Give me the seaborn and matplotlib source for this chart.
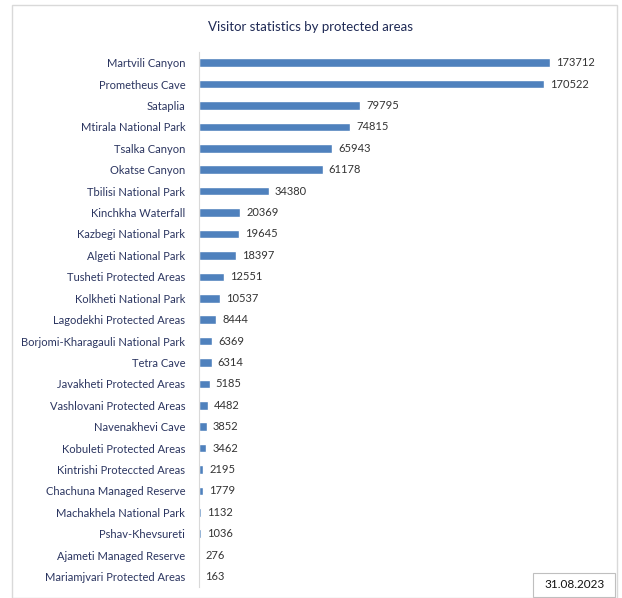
import matplotlib
matplotlib.use("Agg")
import matplotlib.pyplot as plt
from matplotlib.patches import Rectangle
import seaborn as sns
import pandas as pd

# data
areas = ["Martvili Canyon", "Prometheus Cave", "Sataplia", "Mtirala National Park",
         "Tsalka Canyon", "Okatse Canyon", "Tbilisi National Park", "Kinchkha Waterfall",
         "Kazbegi National Park", "Algeti National Park", "Tusheti Protected Areas",
         "Kolkheti National Park", "Lagodekhi Protected Areas",
         "Borjomi-Kharagauli National Park", "Tetra Cave", "Javakheti Protected Areas",
         "Vashlovani Protected Areas", "Navenakhevi Cave", "Kobuleti Protected Areas",
         "Kintrishi Proteccted Areas", "Chachuna Managed Reserve",
         "Machakhela National Park", "Pshav-Khevsureti", "Ajameti Managed Reserve",
         "Mariamjvari Protected Areas"]
visitors = [173712, 170522, 79795, 74815, 65943, 61178, 34380, 20369, 19645, 18397,
            12551, 10537, 8444, 6369, 6314, 5185, 4482, 3852, 3462, 2195, 1779,
            1132, 1036, 276, 163]
title = "Visitor statistics by protected areas"
date_note = "31.08.2023"

df = pd.DataFrame({"area": areas, "visitors": visitors})

sns.set_style("white")
plt.rcParams["font.family"] = ["Lato", "DejaVu Sans"]

fig = plt.figure(figsize=(6.22, 5.98), dpi=100)
ax = fig.add_axes([0.32, 0.018, 0.65, 0.895])

sns.barplot(data=df, x="visitors", y="area", color="#4f81bd", width=0.4,
            saturation=1, ax=ax)

ax.set_xlim(0, 200000)
ax.set_xlabel("")
ax.set_ylabel("")
ax.set_xticks([])
for s in ["top", "right", "bottom"]:
    ax.spines[s].set_visible(False)
ax.spines["left"].set_color("#d9d9d9")
ax.tick_params(axis="y", length=0, pad=10, labelsize=8, labelcolor="#2b3560")

for i, v in enumerate(visitors):
    ax.text(v + 3000, i, str(v), va="center", ha="left", fontsize=8, color="#333333")

# outer frame and title
fig.patches.append(Rectangle((12 / 622, 0.0), 605 / 622, 593 / 598,
                             transform=fig.transFigure, fill=False,
                             edgecolor="#d9d9d9", linewidth=1))
fig.text(0.5, 1 - 27 / 598, title, ha="center", va="center", fontsize=9.5,
         color="#1f2a55")

# date box in the lower right corner
fig.patches.append(Rectangle((533 / 622, 1 / 598), 82 / 622, 24 / 598,
                             transform=fig.transFigure, facecolor="white",
                             edgecolor="#bfbfbf", linewidth=0.8))
fig.text(575 / 622, 1 - 585 / 598, date_note, ha="center", va="center", fontsize=8.5,
         color="#111111")

fig.savefig("out.png", dpi=100)
